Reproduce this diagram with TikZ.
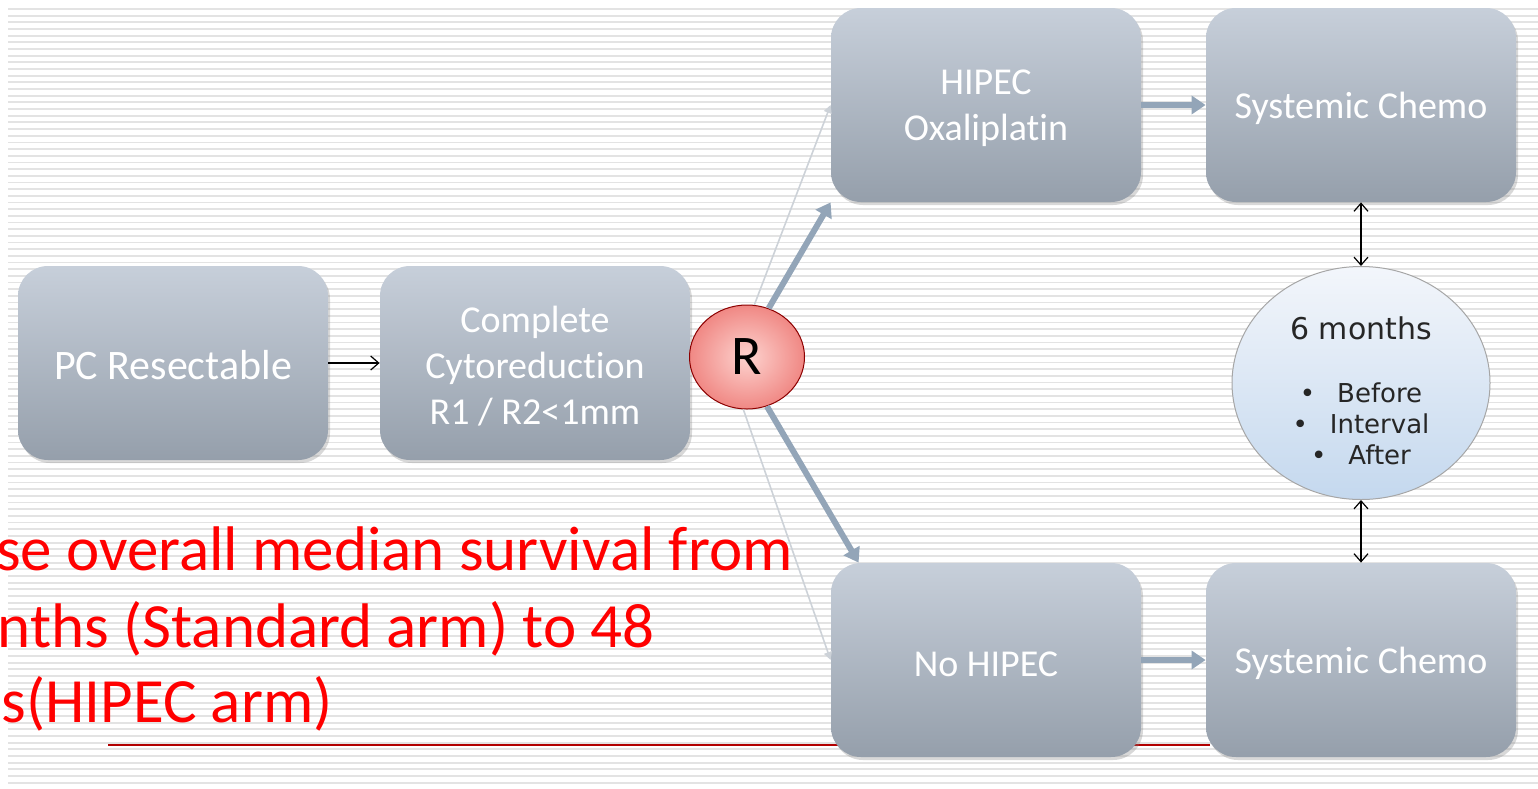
\documentclass[tikz,border=0pt]{standalone}
\usepackage{fontspec}
\newfontfamily\calibri[Ligatures=CommonOff]{Carlito}
\newfontfamily\verdana{DejaVu Sans}
\usetikzlibrary{arrows.meta,shadows,shapes.geometric}
\definecolor{boxtop}{HTML}{C7CFDA}
\definecolor{boxbot}{HTML}{959FAB}
\definecolor{armblue}{HTML}{93A5B8}
\definecolor{armlight}{HTML}{CDD2D8}
\definecolor{ovaltop}{HTML}{F3F6FB}
\definecolor{ovalbot}{HTML}{C4D8EE}
\definecolor{randin}{HTML}{FDD3CF}
\definecolor{randout}{HTML}{F08884}
\tikzset{
  bgline/.style={draw=black!11,line width=0.9pt},
  stagebox/.style={rounded corners=15pt,minimum width=155pt,minimum height=97pt,
    top color=boxtop,bottom color=boxbot,text=white,align=center,
    font=\calibri\fontsize{19}{23}\selectfont,
    execute at begin node={\rule{0pt}{17pt}},
    drop shadow={shadow xshift=1pt,shadow yshift=-1.5pt,opacity=0.3}},
  randnode/.style={ellipse,minimum width=57.5pt,minimum height=52pt,inner sep=0pt,
    inner color=randin,outer color=randout,draw=red!55!black,line width=0.5pt,
    font=\calibri\fontsize{28}{30}\selectfont},
  timing/.style={ellipse,minimum width=129pt,minimum height=116.5pt,inner sep=0pt,
    top color=ovaltop,bottom color=ovalbot,draw=black!35,line width=0.5pt,
    align=center,text=black!85,font=\verdana\fontsize{13}{15.5}\selectfont},
  goaltext/.style={anchor=base east,text=red,inner sep=0pt,
    font=\calibri\fontsize{31.5}{36}\selectfont},
  armarrow/.style={draw=armblue,line width=3pt,-{Triangle[length=7pt,width=9pt]}},
  thinarm/.style={draw=armlight,line width=0.8pt,-{Triangle[length=4pt,width=4pt]}},
  linkarrow/.style={black,line width=0.6pt,-{Straight Barb[length=4pt,width=7pt]}},
  bothway/.style={black,line width=0.6pt,
    {Straight Barb[length=4pt,width=7pt]}-{Straight Barb[length=4pt,width=7pt]}}
}
\begin{document}
\begin{tikzpicture}[x=0.5pt,y=-0.5pt]
\useasboundingbox (0,0) rectangle (1538,788);
\clip (0,0) rectangle (1538,788);
\fill[white] (0,0) rectangle (1538,788);
\foreach \y in {9,15.67,...,786}
  \draw[bgline] (8,\y) -- (1538,\y);
\coordinate (ul-a) at (108,745);
\coordinate (ul-b) at (1210,745);
\draw[red!70!black,line width=0.8pt] (ul-a) -- (ul-b);
\node[goaltext] (goal-a) at (793,570) {se overall median survival from};
\node[goaltext] (goal-b) at (655,647) {nths (Standard arm) to 48};
\node[goaltext] (goal-c) at (333,722) {s(HIPEC arm)};
\node[stagebox,font=\calibri\fontsize{21}{25}\selectfont] (pc) at (173,363) {PC Resectable};
\node[stagebox] (crs) at (535,363) {\rule{0pt}{16pt}Complete\\Cytoreduction\\R1 / R2<1mm};
\node[randnode] (rand) at (747,357) {R};
\node[stagebox] (hipec) at (986,105) {\rule{0pt}{16pt}HIPEC\\Oxaliplatin};
\node[stagebox] (nohipec) at (986,660) {No HIPEC};
\node[stagebox] (chemo-a) at (1361,105) {Systemic Chemo};
\node[stagebox] (chemo-b) at (1361,660) {Systemic Chemo};
\node[timing] (months) at (1361,383) {\rule{0pt}{19.5pt}{\fontsize{15}{18}\selectfont 6 months}\\[16pt]
  \textbullet\hspace{11pt}Before\\\textbullet\hspace{11pt}Interval\\\textbullet\hspace{11pt}After};
\draw[linkarrow] (pc) -- (crs);
\draw[thinarm] (rand.82) -- (hipec.west);
\draw[armarrow] (rand.66) -- (hipec.south west);
\draw[thinarm] (rand.-94) -- (nohipec.west);
\draw[armarrow] (rand.-68) -- ([xshift=14pt]nohipec.north west);
\draw[armarrow] (hipec) -- (chemo-a);
\draw[armarrow] (nohipec) -- (chemo-b);
\draw[bothway] (chemo-a) -- (months);
\draw[bothway] (months) -- (chemo-b);
\end{tikzpicture}
\end{document}
